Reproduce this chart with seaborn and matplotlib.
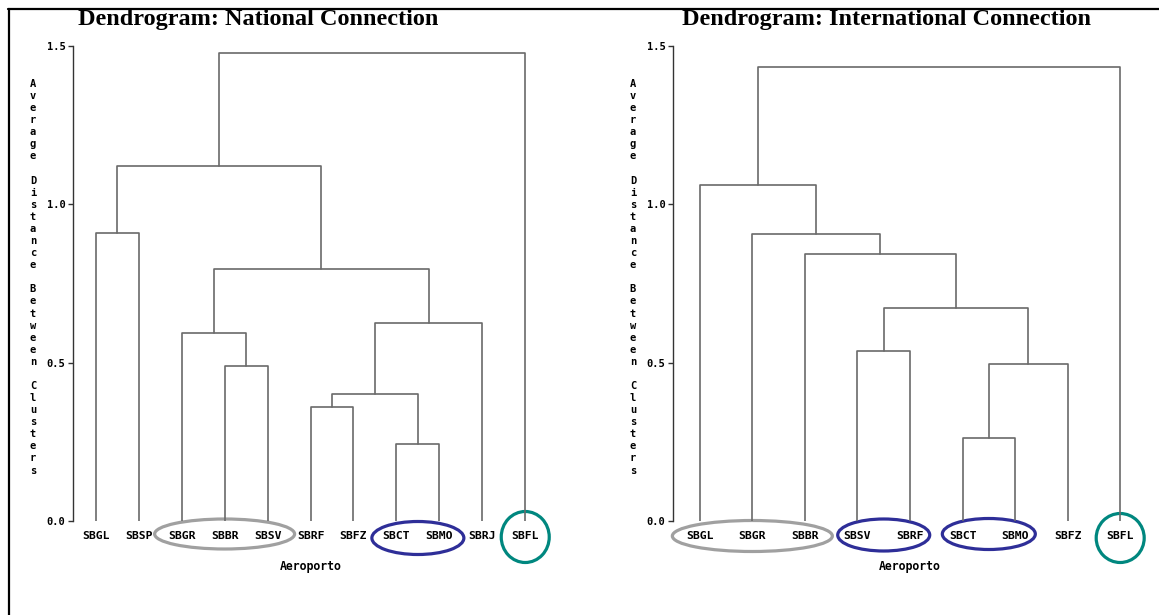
import numpy as np
import pandas as pd
import matplotlib
matplotlib.use("Agg")
import matplotlib.pyplot as plt
import seaborn as sns
from matplotlib.patches import Ellipse
from matplotlib.lines import Line2D
from matplotlib import transforms

# National connections: leaf order and merge sequence (average linkage)
nat_leaves = ["SBGL", "SBSP", "SBGR", "SBBR", "SBSV", "SBRF", "SBFZ", "SBCT", "SBMO", "SBRJ", "SBFL"]
nat_left = ["SBCT", "SBRF", "m1", "SBBR", "SBGR", "m2", "m4", "SBGL", "m7", "m8"]
nat_right = ["SBMO", "SBFZ", "m0", "SBSV", "m3", "SBRJ", "m5", "SBSP", "m6", "SBFL"]
nat_height = [0.243, 0.359, 0.401, 0.490, 0.594, 0.626, 0.797, 0.908, 1.122, 1.478]

# International connections
int_leaves = ["SBGL", "SBGR", "SBBR", "SBSV", "SBRF", "SBCT", "SBMO", "SBFZ", "SBFL"]
int_left = ["SBCT", "m0", "SBSV", "m2", "SBBR", "SBGR", "SBGL", "m6"]
int_right = ["SBMO", "SBFZ", "SBRF", "m1", "m3", "m4", "m5", "SBFL"]
int_height = [0.261, 0.495, 0.536, 0.673, 0.843, 0.905, 1.061, 1.433]

# Highlighted airport groups
nat_groups = [["SBGR", "SBBR", "SBSV"], ["SBCT", "SBMO"], ["SBFL"]]
int_groups = [["SBGL", "SBGR", "SBBR"], ["SBSV", "SBRF"], ["SBCT", "SBMO"], ["SBFL"]]

y_ticks = [0.0, 0.5, 1.0, 1.5]
y_label = "Average Distance Between Clusters"
x_label = "Aeroporto"

GRAY = "#a0a0a0"
BLUE = "#2e2e98"
TEAL = "#00877f"
LINE = "#6a6a6a"
MONO = "DejaVu Sans Mono"

W, H = 1159, 615


def link_segments(leaves, left, right, heights):
    pos = {name: (float(i), 0.0) for i, name in enumerate(leaves)}
    rows = []
    for k, (a, b, h) in enumerate(zip(left, right, heights)):
        xa, ya = pos[a]
        xb, yb = pos[b]
        for order, (x, y) in enumerate([(xa, ya), (xa, h), (xb, h), (xb, yb)]):
            rows.append({"link": k, "order": order, "x": x, "y": y})
        pos[f"m{k}"] = ((xa + xb) / 2.0, h)
    return pd.DataFrame(rows)


sns.set_theme(style="white")
plt.rcParams["font.family"] = [MONO, "DejaVu Sans"]
plt.rcParams["font.weight"] = "bold"

fig = plt.figure(figsize=(W / 100, H / 100), dpi=100)


def panel(left_px, width_px, leaves, left, right, heights, groups, styles, title, title_x, ylab_x):
    ax = fig.add_axes([left_px / W, (H - 521) / H, width_px / W, 475 / H])
    df = link_segments(leaves, left, right, heights)
    sns.lineplot(data=df, x="x", y="y", units="link", estimator=None, sort=False,
                 color=LINE, lw=1.2, ax=ax, legend=False)
    n = len(leaves)
    margin = 0.53 if n > 10 else 0.51
    ax.set_xlim(-margin, n - 1 + margin)
    ax.set_ylim(0, 1.5)
    for s in ["top", "right", "bottom"]:
        ax.spines[s].set_visible(False)
    ax.spines["left"].set_color("#333333")
    ax.spines["left"].set_linewidth(1.0)
    ax.set_yticks(y_ticks, [f"{v:.1f}" for v in y_ticks])
    ax.set_xticks(range(n), leaves)
    ax.tick_params(axis="y", left=True, direction="out", length=3.5, width=1.0,
                   color="#333333", labelsize=7.5, pad=2, labelcolor="black")
    ax.tick_params(axis="x", bottom=False, length=0, labelsize=8.2, pad=7.0, labelcolor="black")
    ax.set_xlabel(x_label, fontsize=8.3, labelpad=14, color="black", fontweight="bold")
    ax.set_ylabel("")
    ax.grid(False)

    px_per_unit = width_px / (n - 1 + 2 * margin)
    trans = transforms.blended_transform_factory(ax.transData, ax.transAxes)
    for members, (color, w_px, h_px, dy_px) in zip(groups, styles):
        idx = [leaves.index(m) for m in members]
        cx = (min(idx) + max(idx)) / 2.0
        e = Ellipse((cx, -dy_px / 475), w_px / px_per_unit, h_px / 475,
                    transform=trans, fill=False, edgecolor=color, lw=2.3, clip_on=False)
        ax.add_patch(e)

    fig.text(title_x / W, 1 - 20 / H, title, ha="center", va="center",
             family="Liberation Serif", fontweight="bold", fontsize=17.5, color="black")
    for i, ch in enumerate(y_label):
        if ch != " ":
            fig.text(ylab_x / W, 1 - (84 + i * 12.08) / H, ch, ha="center", va="center",
                     fontsize=7.5, color="black", fontweight="bold")
    return ax


panel(73, 475, nat_leaves, nat_left, nat_right, nat_height, nat_groups,
      [(GRAY, 140, 30, 13), (BLUE, 92, 33, 17), (TEAL, 48, 51, 16)],
      "Dendrogram: National Connection", 258, 33)
panel(673, 474, int_leaves, int_left, int_right, int_height, int_groups,
      [(GRAY, 160, 31, 15), (BLUE, 92, 32, 14), (BLUE, 93, 31, 13), (TEAL, 48, 49, 17)],
      "Dendrogram: International Connection", 886, 633)

# page frame
fig.add_artist(Line2D([8 / W, 1], [1 - 9 / H, 1 - 9 / H], color="black", lw=1.6,
                      transform=fig.transFigure))
fig.add_artist(Line2D([8.5 / W, 8.5 / W], [0, 1 - 9 / H], color="black", lw=1.6,
                      transform=fig.transFigure))

fig.savefig("out.png", dpi=100)
